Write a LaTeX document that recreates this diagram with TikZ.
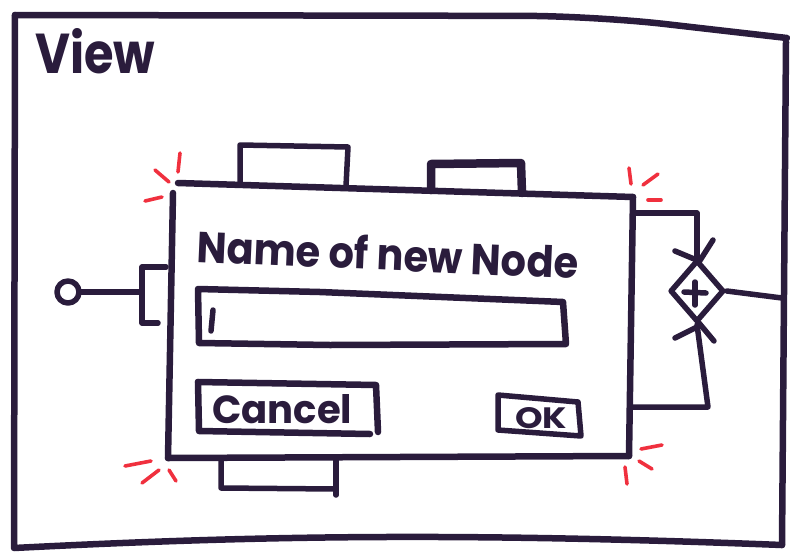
\documentclass[tikz,border=0pt]{standalone}
\usepackage{fontspec}
\setmainfont{Poppins}
\usetikzlibrary{shapes.geometric}
\definecolor{ink}{RGB}{42,28,60}
\definecolor{spark}{RGB}{240,48,62}

\begin{document}
\begin{tikzpicture}[x=1pt,y=-1pt,line cap=round,line join=round,
  pen/.style={draw=ink,line width=6.5pt},
  finepen/.style={draw=ink,line width=5.5pt},
  flash/.style={draw=spark,line width=3.6pt},
  hand/.style={text=ink,inner sep=0pt,font=\bfseries}]
\useasboundingbox (0,0) rectangle (790,552);

% outer view frame
\draw[pen,rounded corners=70pt] (15,15) -- (595,16) -- (787,38);
\draw[pen] (15,15) -- (14,548) .. controls (250,536) and (450,532) .. (782,545);
\draw[pen] (786,42) -- (782,545);
\node[hand,anchor=base west] (title) at (35,73) {\resizebox{120pt}{45pt}{View}};

% dialog body
\coordinate (dNE) at (633,197);
\coordinate (dSE) at (629,456);
\coordinate (dSW) at (168,458);
\draw[pen] (178,183) -- (dNE);
\draw[pen] (dNE) -- (dSE);
\draw[pen] (dSE) -- (dSW);
\draw[pen] (173,193) -- (dSW);

% tabs on the dialog edges
\draw[finepen] (240,184) -- (240,145) -- (348,147) -- (346,186);
\draw[draw=ink,line width=8.5pt] (431,190) -- (431,164) -- (521,163) -- (522,193);
\draw[finepen] (221,458) -- (221,488) -- (335,489);
\draw[finepen] (336,459) -- (336,495);
\draw[finepen] (166,267) -- (142,267) -- (142,323) -- (158,323);

% port on the left
\node[circle,finepen,minimum size=22pt,inner sep=0pt] (port) at (68,292) {};
\coordinate (lefttab) at (142,292);
\draw[finepen] (port) -- (lefttab);

% label and input field
\node[hand,anchor=base west,rotate=-2.5] (label) at (196,262)
  {\resizebox{382pt}{34pt}{Name of new Node}};
\draw[pen] (198,289) -- (320,292) -- (563,302) -- (566,344) -- (330,345) -- (199,343) -- cycle;
\coordinate (caretA) at (213,310);
\coordinate (caretB) at (211,331);
\draw[finepen] (caretA) -- (caretB);

% buttons
\draw[pen] (198,382) -- (376,385) -- (378,432);
\draw[pen] (198,382) -- (199,431) -- (370,434);
\node[hand,anchor=base west] (cancel) at (212,423) {\resizebox{140pt}{29pt}{Cancel}};
\draw[finepen] (498,395) -- (578,402) -- (581,436) -- (498,430) -- cycle;
\node[hand,anchor=base west] (ok) at (515,428) {\resizebox{52pt}{21pt}{OK}};

% merge gateway on the right
\node[diamond,finepen,minimum width=54pt,minimum height=62pt,inner sep=0pt] (gate) at (697,291) {};
\draw[finepen] (684,292) -- (706,293);
\draw[finepen] (695,282) -- (695,305);
\coordinate (outA) at (633,213);
\coordinate (outB) at (630,407);
\coordinate (frameR) at (782,298);
\draw[finepen] (outA) -- (697,213) -- (gate.north);
\draw[finepen] (gate.south) -- (708,407) -- (outB);
\draw[finepen] (gate.east) -- (frameR);
\draw[finepen] (675,251) -- (699,261);
\draw[finepen] (713,240) -- (699,262);
\draw[finepen] (675,338) -- (699,326);
\draw[finepen] (714,341) -- (699,323);

% highlight strokes at the dialog corners
\draw[flash] (180,153) -- (178,172);
\draw[flash] (155,170) -- (169,182);
\draw[flash] (145,201) -- (162,197);
\draw[flash] (629,168) -- (631,184);
\draw[flash] (643,185) -- (658,174);
\draw[flash] (648,200) -- (661,200);
\draw[flash] (125,466) -- (151,461);
\draw[flash] (142,483) -- (159,470);
\draw[flash] (169,470) -- (176,481);
\draw[flash] (641,449) -- (662,445);
\draw[flash] (639,461) -- (652,469);
\draw[flash] (625,467) -- (627,484);
\end{tikzpicture}
\end{document}
